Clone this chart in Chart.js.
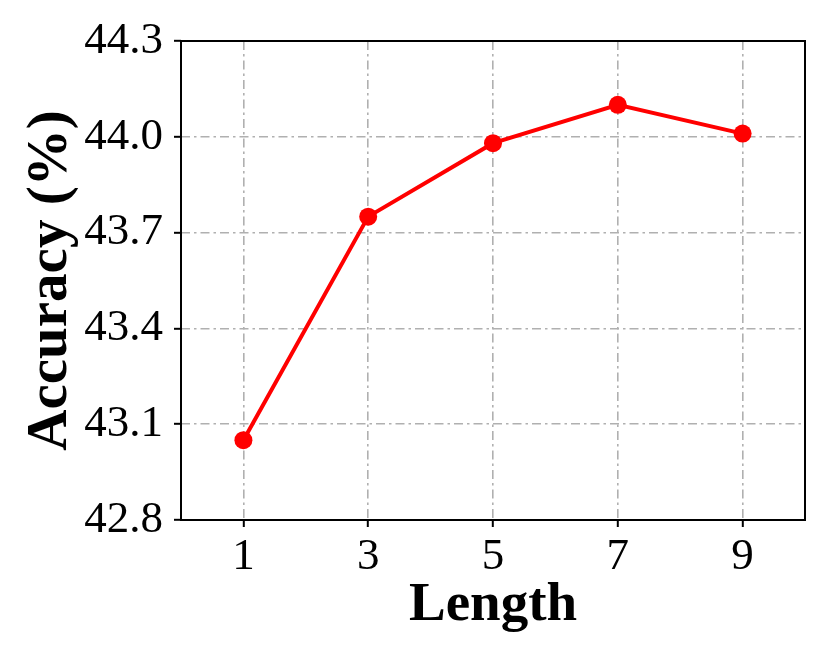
<!DOCTYPE html>
<html>
<head>
<meta charset="utf-8">
<script src="https://cdn.jsdelivr.net/npm/chart.js@4.4.1/dist/chart.umd.min.js"></script>
<style>
  html, body { margin: 0; padding: 0; background: #fff; }
  #wrap { width: 830px; height: 664px; }
</style>
</head>
<body>
<div id="wrap"><canvas id="accChart" width="830" height="664"></canvas></div>
<script>
// DATA
let lengths = [1, 3, 5, 7, 9];
let accuracy = [43.05, 43.75, 43.98, 44.10, 44.01];
let xTicks = [1, 3, 5, 7, 9];
let yTicks = [42.8, 43.1, 43.4, 43.7, 44.0, 44.3];

let serif = "'Liberation Serif', 'Times New Roman', serif";

// frame around the plot area
let framePlugin = {
    id: 'frame',
    beforeDatasetsDraw(chart) {
        let a = chart.chartArea;
        let ctx = chart.ctx;
        ctx.save();
        ctx.strokeStyle = '#000';
        ctx.lineWidth = 2;
        ctx.strokeRect(a.left, a.top, a.right - a.left, a.bottom - a.top);
        ctx.restore();
    }
};

let gridOpts = {
    color: '#b0b0b0',
    lineWidth: 1.6,
    tickColor: '#000',
    tickWidth: 2,
    tickLength: 7
};

let ctx = document.querySelector('#accChart').getContext('2d');

let accChart = new Chart(ctx, {
    type: 'line',
    data: {
        datasets: [{
            label: 'Accuracy',
            data: lengths.map((l, i) => ({ x: l, y: accuracy[i] })),
            borderColor: '#ff0000',
            backgroundColor: '#ff0000',
            borderWidth: 4,
            pointRadius: 9,
            pointBorderWidth: 0,
            pointBackgroundColor: '#ff0000',
            fill: false,
            tension: 0
        }]
    },
    options: {
        responsive: false,
        animation: false,
        devicePixelRatio: 1,
        layout: { padding: { top: 41, right: 25, left: 0, bottom: 0 } },
        plugins: {
            legend: { display: false },
            tooltip: { enabled: false }
        },
        scales: {
            x: {
                type: 'linear',
                min: 0,
                max: 10,
                afterBuildTicks: (s) => { s.ticks = xTicks.map(v => ({ value: v })); },
                afterFit: (s) => { s.height = 144; },
                grid: gridOpts,
                border: { display: false, dash: [9, 4, 2.5, 4] },
                ticks: {
                    color: '#000',
                    padding: 3,
                    maxRotation: 0,
                    font: { family: serif, size: 45 },
                    callback: (v) => String(v)
                },
                title: {
                    display: true,
                    text: 'Length',
                    color: '#000',
                    font: { family: serif, size: 55, weight: 'bold' },
                    padding: { top: 0, bottom: 25 }
                }
            },
            y: {
                min: 42.8,
                max: 44.3,
                afterBuildTicks: (s) => { s.ticks = yTicks.map(v => ({ value: v })); },
                afterFit: (s) => { s.width = 181; },
                grid: gridOpts,
                border: { display: false, dash: [9, 4, 2.5, 4] },
                ticks: {
                    color: '#000',
                    padding: 11,
                    font: { family: serif, size: 45 },
                    callback: (v) => Number(v).toFixed(1)
                },
                title: {
                    display: true,
                    text: 'Accuracy (%)',
                    color: '#000',
                    font: { family: serif, size: 57, weight: 'bold' },
                    padding: { top: 17, bottom: 0 }
                }
            }
        }
    },
    plugins: [framePlugin]
});
</script>
</body>
</html>
